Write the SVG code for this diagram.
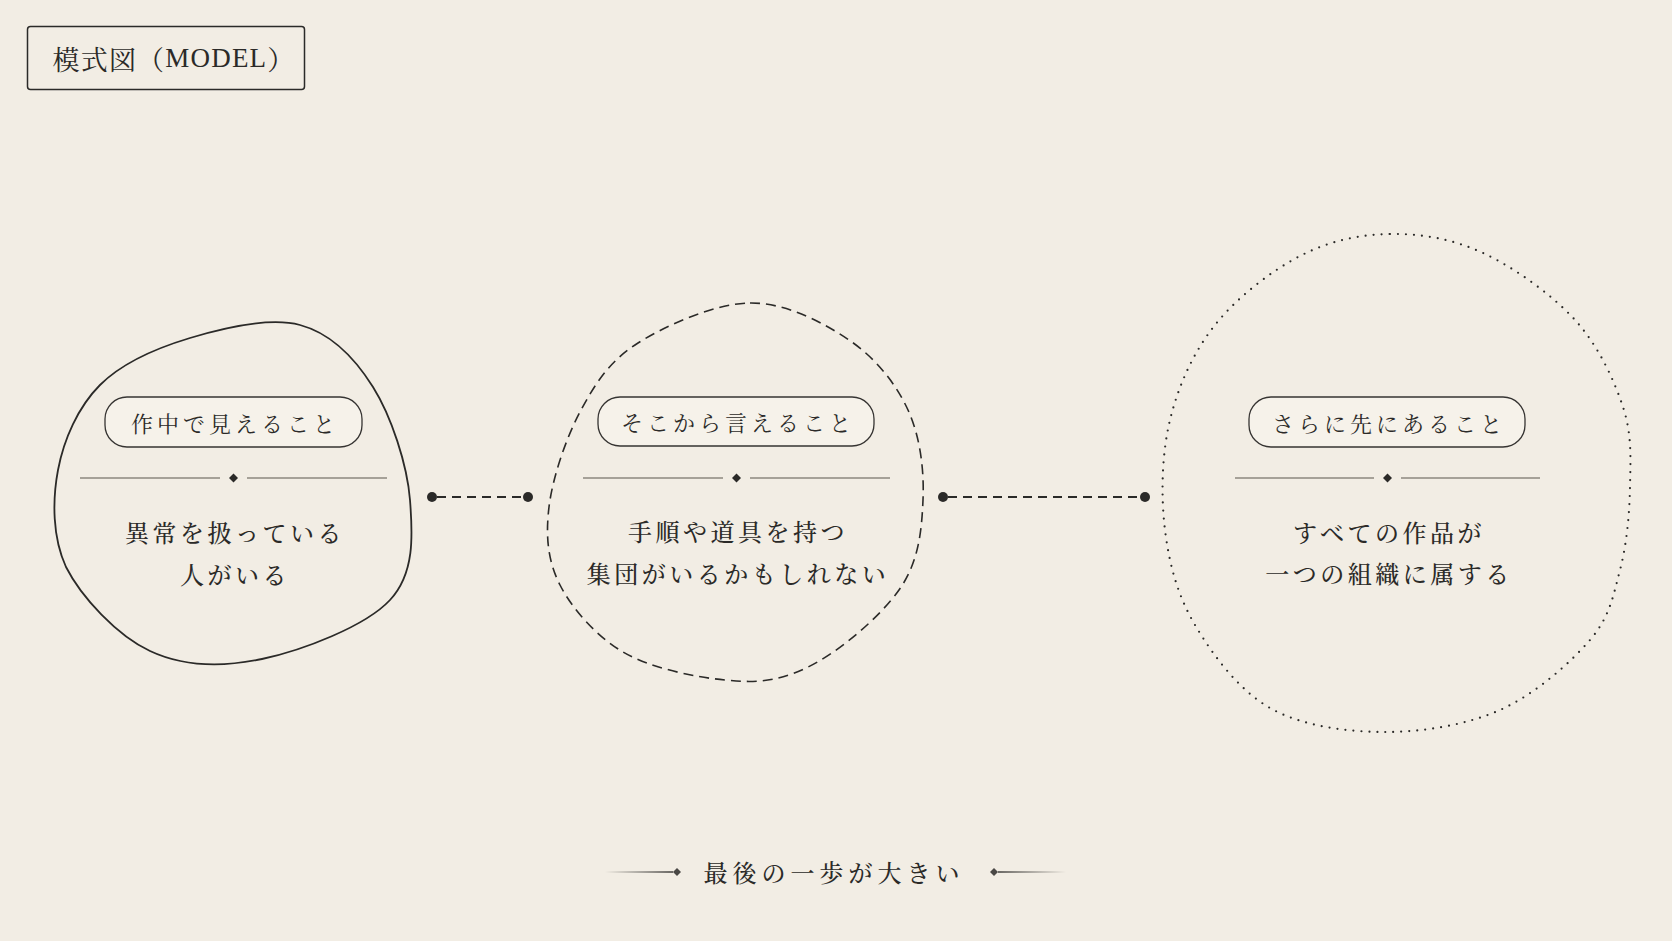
<svg xmlns="http://www.w3.org/2000/svg" width="1672" height="941" viewBox="0 0 1672 941">
<defs>
<style>
.jp{font-family:"Noto Serif CJK JP","Noto Sans CJK JP",serif;fill:#2b2a28;}
.pilltxt{font-size:22px;letter-spacing:4px;text-anchor:middle;dominant-baseline:central;}
.body{font-size:24px;letter-spacing:3.5px;text-anchor:middle;dominant-baseline:central;font-weight:500;}
.pill{fill:#f6f2ea;stroke:#363432;stroke-width:1.3;}
.div{stroke:#8c877f;stroke-width:1.5;fill:none;}
.dia{fill:#2b2a28;}
.blob{fill:none;stroke:#2b2a28;}
.conn{stroke:#2b2a28;stroke-width:2;stroke-dasharray:9 6;fill:none;}
.dot{fill:#2b2a28;}
</style>
<linearGradient id="fadeL" gradientUnits="userSpaceOnUse" x1="605" y1="0" x2="673" y2="0">
<stop offset="0" stop-color="#2b2a28" stop-opacity="0"/>
<stop offset="1" stop-color="#2b2a28" stop-opacity="0.9"/>
</linearGradient>
<linearGradient id="fadeR" gradientUnits="userSpaceOnUse" x1="998" y1="0" x2="1066" y2="0">
<stop offset="0" stop-color="#2b2a28" stop-opacity="0.9"/>
<stop offset="1" stop-color="#2b2a28" stop-opacity="0"/>
</linearGradient>
</defs>
<rect width="1672" height="941" fill="#f2ede4"/>

<g id="title">
<rect x="27.5" y="26.5" width="277" height="63" rx="3" fill="none" stroke="#2b2a28" stroke-width="1.5"/>
<text class="jp" x="174" y="58" font-size="27" letter-spacing="1.2" text-anchor="middle" dominant-baseline="central">模式図（<tspan font-family="Liberation Serif">MODEL</tspan>）</text>
</g>

<g id="connectors">
<line class="conn" x1="437" y1="497" x2="523" y2="497"/>
<circle class="dot" cx="432" cy="497" r="5"/>
<circle class="dot" cx="528" cy="497" r="5"/>
<line class="conn" x1="948" y1="497" x2="1140" y2="497"/>
<circle class="dot" cx="943" cy="497" r="5"/>
<circle class="dot" cx="1145" cy="497" r="5"/>
</g>

<g id="node-visible">
<path class="blob" stroke-width="1.8" d="M300,325 C330.5,333.2 354.7,357.8 373,387 C391.3,416.2 407.2,464.5 410,500 C412.8,535.5 414.7,573.5 390,600 C365.3,626.5 302,650.5 262,659 C222,667.5 182.7,666.3 150,651 C117.3,635.7 81.3,597.2 66,567 C52.3,537 52.3,500.3 58,470 C63.7,439.7 78,407 100,385 C122,363 156.7,348 190,338 C223.3,328 269.5,316.8 300,325 Z"/>
<rect class="pill" x="105" y="397" width="257" height="50" rx="22"/>
<text class="jp pilltxt" x="235" y="422">作中で見えること</text>
<line class="div" x1="80" y1="478" x2="220" y2="478"/>
<line class="div" x1="247" y1="478" x2="387" y2="478"/>
<path class="dia" d="M233.5,473.5 L238,478 L233.5,482.5 L229,478 Z"/>
<text class="jp body" x="235" y="531">異常を扱っている</text>
<text class="jp body" x="235" y="573">人がいる</text>
</g>

<g id="node-inferred">
<path class="blob" stroke-width="1.6" stroke-dasharray="10 6" d="M750,303 C785.3,302.5 822.7,322.2 849,340 C875.3,357.8 895.8,383.3 908,410 C920.2,436.7 924.3,470 923,500 C921.7,530 919,562 899,590 C879,618 838,653 806,668 C774,683 752,682.7 725,680 C695,677.3 649.7,667.8 623,652 C596.3,636.2 572.3,609.2 560,585 C547.7,560.8 545.5,536.2 549,507 C552.5,477.8 566.2,437.3 581,410 C595.8,382.7 609.8,360.8 638,343 C666.2,325.2 714.7,303.5 750,303 Z"/>
<rect class="pill" x="598" y="397" width="276" height="49" rx="22"/>
<text class="jp pilltxt" x="738" y="421.5">そこから言えること</text>
<line class="div" x1="583" y1="478" x2="723" y2="478"/>
<line class="div" x1="750" y1="478" x2="890" y2="478"/>
<path class="dia" d="M736.5,473.5 L741,478 L736.5,482.5 L732,478 Z"/>
<text class="jp body" x="738" y="530">手順や道具を持つ</text>
<text class="jp body" x="738" y="572">集団がいるかもしれない</text>
</g>

<g id="node-beyond">
<path class="blob" stroke-width="2.2" stroke-linecap="round" stroke-dasharray="0 8" d="M1390,234 C1420.5,233.5 1452.2,238.7 1483,253 C1513.8,267.3 1551.7,294.3 1575,320 C1598.3,345.7 1613.8,379.2 1623,407 C1632.2,434.8 1630.5,459.8 1630,487 C1629.5,514.2 1626.7,544.5 1620,570 C1613.3,595.5 1610,616.7 1590,640 C1570,663.3 1534.5,694.7 1500,710 C1465.5,725.3 1421.3,732.3 1383,732 C1344.7,731.7 1301.3,725.8 1270,708 C1238.7,690.2 1212.5,654.7 1195,625 C1177.5,595.3 1169.2,564.2 1165,530 C1160.8,495.8 1161.7,454.2 1170,420 C1178.3,385.8 1193.3,352.3 1215,325 C1236.7,297.7 1270.8,271.2 1300,256 C1329.2,240.8 1359.5,234.5 1390,234 Z"/>
<rect class="pill" x="1249" y="397" width="276" height="50" rx="22"/>
<text class="jp pilltxt" x="1389" y="422">さらに先にあること</text>
<line class="div" x1="1235" y1="478" x2="1374" y2="478"/>
<line class="div" x1="1401" y1="478" x2="1540" y2="478"/>
<path class="dia" d="M1387.5,473.5 L1392,478 L1387.5,482.5 L1383,478 Z"/>
<text class="jp body" x="1389" y="531">すべての作品が</text>
<text class="jp body" x="1389" y="572">一つの組織に属する</text>
</g>

<g id="caption">
<rect x="605" y="871.25" width="68" height="1.5" fill="url(#fadeL)"/>
<path d="M677,868 L681,872 L677,876 L673,872 Z" fill="#4a4845"/>
<text class="jp" x="834" y="871.5" font-size="24" font-weight="500" letter-spacing="5" text-anchor="middle" dominant-baseline="central">最後の一歩が大きい</text>
<path d="M994,868 L998,872 L994,876 L990,872 Z" fill="#4a4845"/>
<rect x="998" y="871.25" width="68" height="1.5" fill="url(#fadeR)"/>
</g>
</svg>
